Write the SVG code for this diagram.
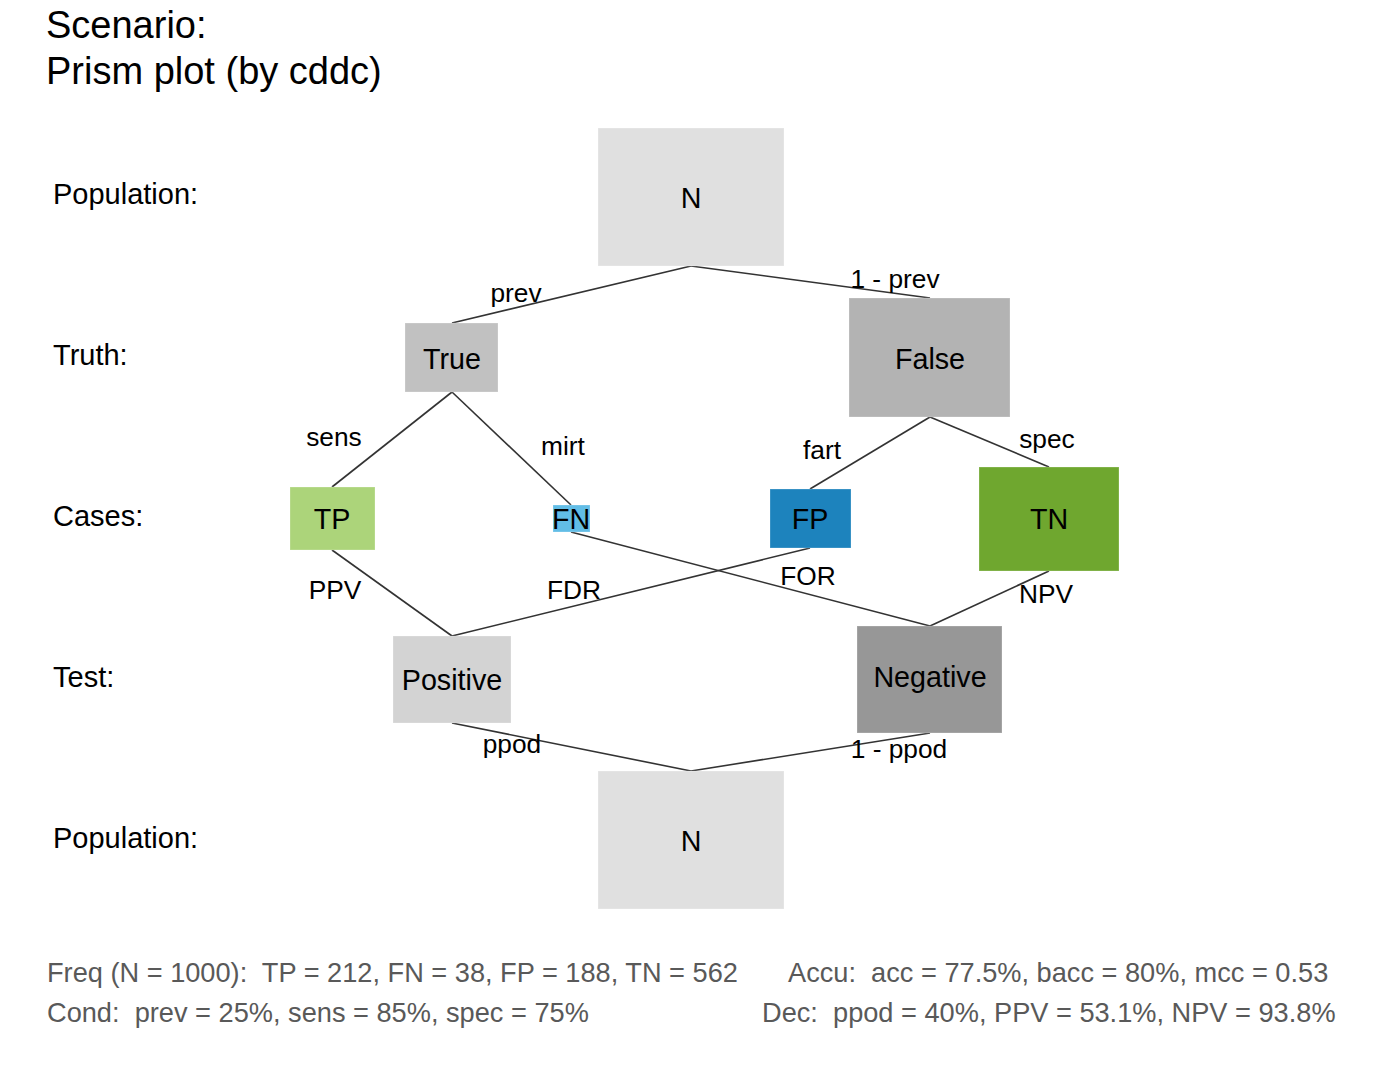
<svg xmlns="http://www.w3.org/2000/svg" width="1382" height="1076" viewBox="0 0 1382 1076">
<style>
text{font-family:"Liberation Sans",Arial,sans-serif;fill:#000}
.title{font-size:38px}
.row{font-size:29px}
.lbl{font-size:28.7px;text-anchor:middle}
.edge{font-size:26.3px;text-anchor:middle}
.foot{font-size:27.2px;fill:#595959}
.box{stroke:#ffffff;stroke-opacity:0.25;stroke-width:1}
.links line{stroke:#333333;stroke-width:1.6}
</style>
<rect width="1382" height="1076" fill="#ffffff"/>
<g id="title">
<text class="title" x="46" y="38">Scenario:</text>
<text class="title" x="46" y="84">Prism plot (by cddc)</text>
</g>
<g id="rows">
<text class="row" x="53" y="204">Population:</text>
<text class="row" x="53" y="365">Truth:</text>
<text class="row" x="53" y="526">Cases:</text>
<text class="row" x="53" y="687">Test:</text>
<text class="row" x="53" y="848">Population:</text>
</g>
<g id="connectors" class="links">
<line x1="691" y1="266" x2="452" y2="323"/>
<line x1="691" y1="266" x2="930" y2="298"/>
<line x1="452" y1="392" x2="332" y2="487"/>
<line x1="452" y1="392" x2="571" y2="505"/>
<line x1="930" y1="417" x2="810" y2="489"/>
<line x1="930" y1="417" x2="1049" y2="467"/>
<line x1="332" y1="550" x2="452" y2="636"/>
<line x1="810" y1="548" x2="452" y2="636"/>
<line x1="571" y1="532" x2="930" y2="626"/>
<line x1="1049" y1="571" x2="930" y2="626"/>
<line x1="452" y1="723" x2="691" y2="771"/>
<line x1="930" y1="733" x2="691" y2="771"/>
</g>
<g id="edge-labels">
<text class="edge" x="516" y="302">prev</text>
<text class="edge" x="895" y="288">1 - prev</text>
<text class="edge" x="334" y="446">sens</text>
<text class="edge" x="563" y="455">mirt</text>
<text class="edge" x="822" y="459">fart</text>
<text class="edge" x="1047" y="448">spec</text>
<text class="edge" x="335" y="599">PPV</text>
<text class="edge" x="574" y="599">FDR</text>
<text class="edge" x="808" y="585">FOR</text>
<text class="edge" x="1046" y="603">NPV</text>
<text class="edge" x="512" y="753">ppod</text>
<text class="edge" x="899" y="758">1 - ppod</text>
</g>
<g id="node-N-top">
<rect class="box" x="598" y="128" width="186" height="138" fill="#E0E0E0"/>
<text class="lbl" x="691" y="208">N</text>
</g>
<g id="node-True">
<rect class="box" x="405" y="323" width="93" height="69" fill="#C1C1C1"/>
<text class="lbl" x="452" y="369">True</text>
</g>
<g id="node-False">
<rect class="box" x="849" y="298" width="161" height="119" fill="#B3B3B3"/>
<text class="lbl" x="930" y="369">False</text>
</g>
<g id="node-TP">
<rect class="box" x="290" y="487" width="85" height="63" fill="#ACD47A"/>
<text class="lbl" x="332" y="529">TP</text>
</g>
<g id="node-FN">
<rect class="box" x="553" y="505" width="37" height="27" fill="#62BDE6"/>
<text class="lbl" x="571" y="529">FN</text>
</g>
<g id="node-FP">
<rect class="box" x="770" y="489" width="81" height="59" fill="#1D83BD"/>
<text class="lbl" x="810" y="529">FP</text>
</g>
<g id="node-TN">
<rect class="box" x="979" y="467" width="140" height="104" fill="#6FA72F"/>
<text class="lbl" x="1049" y="529">TN</text>
</g>
<g id="node-Positive">
<rect class="box" x="393" y="636" width="118" height="87" fill="#D3D3D3"/>
<text class="lbl" x="452" y="690">Positive</text>
</g>
<g id="node-Negative">
<rect class="box" x="857" y="626" width="145" height="107" fill="#979797"/>
<text class="lbl" x="930" y="687">Negative</text>
</g>
<g id="node-N-bottom">
<rect class="box" x="598" y="771" width="186" height="138" fill="#E0E0E0"/>
<text class="lbl" x="691" y="851">N</text>
</g>
<g id="footer">
<text class="foot" x="47" y="982" xml:space="preserve">Freq (N = 1000):  TP = 212, FN = 38, FP = 188, TN = 562</text>
<text class="foot" x="788" y="982" xml:space="preserve">Accu:  acc = 77.5%, bacc = 80%, mcc = 0.53</text>
<text class="foot" x="47" y="1022" xml:space="preserve">Cond:  prev = 25%, sens = 85%, spec = 75%</text>
<text class="foot" x="762" y="1022" xml:space="preserve">Dec:  ppod = 40%, PPV = 53.1%, NPV = 93.8%</text>
</g>
</svg>
